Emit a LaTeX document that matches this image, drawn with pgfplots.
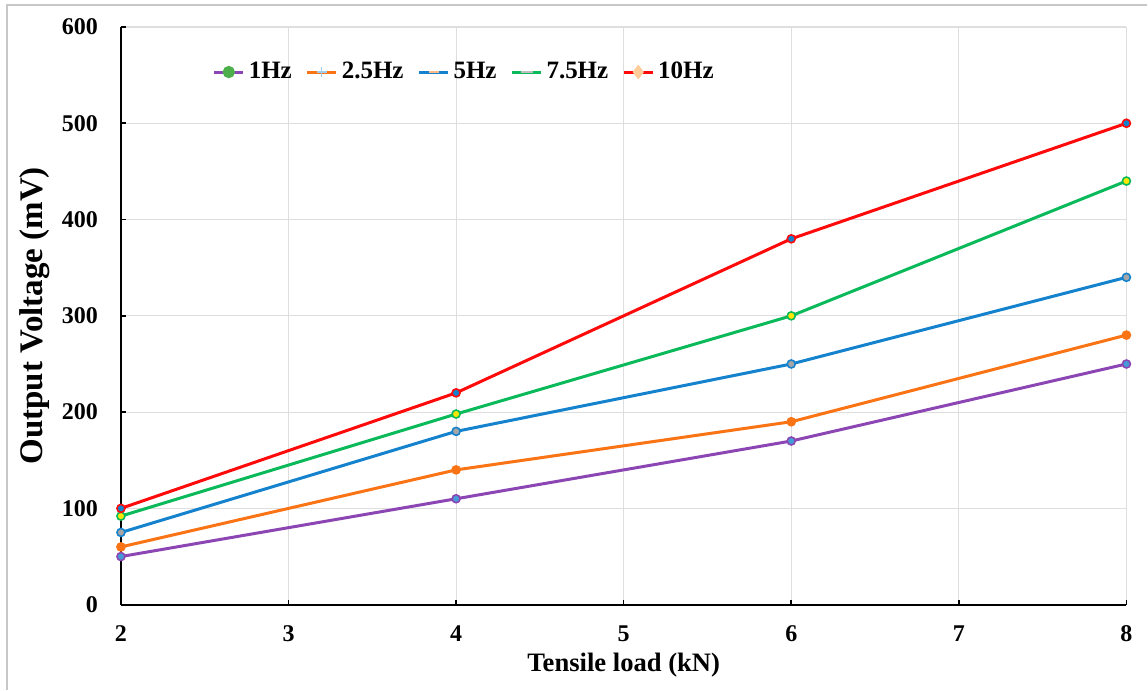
\documentclass[border=0pt]{standalone}
\usepackage{pgfplots}
\pgfplotsset{compat=1.18}
\usepackage{fontspec}
\setmainfont{Liberation Serif}
\definecolor{cpurple}{RGB}{140,70,180}
\definecolor{corange}{RGB}{250,115,20}
\definecolor{cblue}{RGB}{20,130,205}
\definecolor{cgreen}{RGB}{10,185,90}
\definecolor{cred}{RGB}{255,10,10}
\begin{document}
\begin{tikzpicture}
% page size and the thin frame of the original crop
\path (-60.5pt,-42.5pt) rectangle (513.5pt,302.5pt);
\draw[black!22, line width=0.6pt] (-57pt,-42.5pt) -- (-57pt,300pt) -- (513.5pt,300pt);
\begin{axis}[
    scale only axis,
    width=503pt, height=289pt,
    xmin=2, xmax=8, ymin=0, ymax=600,
    xtick={2,...,8}, ytick={0,100,...,600},
    grid=major,
    grid style={black!13, line width=0.6pt},
    axis x line*=bottom, axis y line*=left,
    axis line style={black, line width=1pt, -},
    tick align=inside,
    major tick length=2.5pt,
    tick style={black, line width=0.8pt},
    /pgf/number format/assume math mode=true,
    ticklabel style={font=\fontsize{12}{14}\selectfont\bfseries},
    xticklabel style={anchor=center, yshift=-14.5pt},
    yticklabel style={anchor=east, xshift=-8pt},
    xlabel={Tensile load (kN)},
    ylabel={Output Voltage (mV)},
    xlabel style={font=\fontsize{13.3}{15}\selectfont\bfseries,
        at={(axis description cs:0.5,-0.1038)}, anchor=center},
    ylabel style={font=\fontsize{16.5}{18}\selectfont\bfseries,
        at={(axis description cs:-0.0855,0.5)}, anchor=center},
    every axis plot/.append style={line width=1.5pt, mark=*, mark size=2pt},
    legend style={draw=none, fill=none, at={(0.085,0.922)}, anchor=west,
        legend columns=-1, font=\fontsize{12.5}{14}\selectfont\bfseries,
        /tikz/every even column/.append style={column sep=5pt}},
    legend image code/.code={
        \draw[#1, line width=1.5pt] (0pt,0pt) -- (14.5pt,0pt);
        \draw[#1, line width=1.5pt, mark repeat=2, mark phase=2] plot coordinates {(0pt,0pt) (7.25pt,0pt) (14.5pt,0pt)};},
]
\addplot[forget plot, cpurple, mark options={fill=cblue!80, draw=cpurple, line width=0.8pt}] coordinates {(2,50) (4,110) (6,170) (8,250)};
\addplot[forget plot, corange, mark options={fill=corange, draw=corange, line width=0.8pt}] coordinates {(2,60) (4,140) (6,190) (8,280)};
\addplot[forget plot, cblue, mark options={fill=black!35, draw=cblue, line width=0.8pt}] coordinates {(2,75) (4,180) (6,250) (8,340)};
\addplot[forget plot, cgreen, mark options={fill=yellow!90!orange, draw=cgreen, line width=0.8pt}] coordinates {(2,92) (4,198) (6,300) (8,440)};
\addplot[forget plot, cred, mark options={fill=cblue, draw=cred, line width=0.8pt}] coordinates {(2,100) (4,220) (6,380) (8,500)};

\addlegendimage{cpurple, mark=*, mark size=2.3pt, mark options={fill=black!45!green!70, draw=black!45!green!70}}
\addlegendentry{1Hz}
\addlegendimage{corange, mark=+, mark size=2.5pt, mark options={draw=cblue!40, line width=0.6pt}}
\addlegendentry{2.5Hz}
\addlegendimage{cblue, mark=-, mark size=2.5pt, mark options={draw=corange!50, line width=1.2pt}}
\addlegendentry{5Hz}
\addlegendimage{cgreen, mark=-, mark size=3pt, mark options={draw=black!25, line width=1.2pt}}
\addlegendentry{7.5Hz}
\addlegendimage{cred, mark=diamond*, mark size=2.5pt, mark options={fill=orange!40, draw=orange!40}}
\addlegendentry{10Hz}
\end{axis}
\end{tikzpicture}
\end{document}
